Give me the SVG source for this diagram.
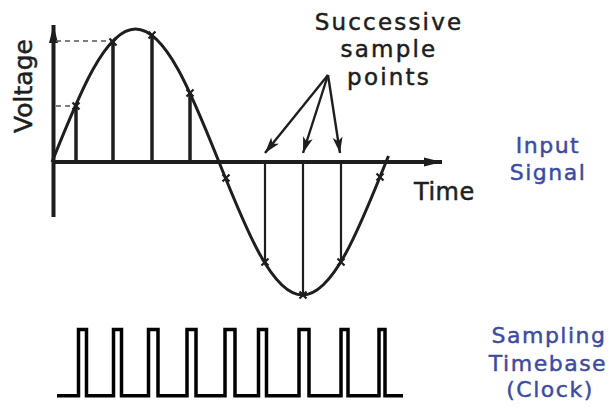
<svg xmlns="http://www.w3.org/2000/svg" xmlns:xlink="http://www.w3.org/1999/xlink" width="613" height="410" viewBox="0 0 613 410">
<style>
.lbl{font-family:"DejaVu Sans","Liberation Sans",sans-serif;fill:#1e1e1e;stroke:#1e1e1e;stroke-width:0.5;}
.blue{font-family:"DejaVu Sans","Liberation Sans",sans-serif;fill:#3d4b9f;stroke:#3d4b9f;stroke-width:0.45;font-size:22px;letter-spacing:1.5px;text-anchor:middle;}
.axis{stroke:#1e1e1e;stroke-width:4;fill:none;}
.wave{stroke:#1e1e1e;stroke-width:3;fill:none;}
.samp{stroke:#1e1e1e;stroke-width:3.5;}
.samp2{stroke:#1e1e1e;stroke-width:2.2;}
.dash{stroke:#555;stroke-width:1.3;stroke-dasharray:5 4;}
.ann{stroke:#1e1e1e;stroke-width:2.4;fill:none;}
.xm{stroke:#1e1e1e;stroke-width:2.2;fill:none;}
</style>
<defs>
<marker id="ah" markerUnits="userSpaceOnUse" markerWidth="18" markerHeight="12" refX="16" refY="5" orient="auto">
<path d="M0,0 L16,5 L0,10 L4,5 Z" fill="#1e1e1e"/>
</marker>
<marker id="axh" markerUnits="userSpaceOnUse" markerWidth="20" markerHeight="12" refX="18" refY="5" orient="auto">
<path d="M0,0.5 L18,5 L0,9.5 Z" fill="#1e1e1e"/>
</marker>
<path id="x" d="M-3.5,-3.5 L3.5,3.5 M-3.5,3.5 L3.5,-3.5"/>
</defs>

<g id="axes">
<line class="axis" x1="53.5" y1="217" x2="53.5" y2="25" marker-end="url(#axh)"/>
<line class="axis" x1="53.5" y1="162" x2="442" y2="162" marker-end="url(#axh)"/>
<line class="dash" x1="56" y1="41" x2="112" y2="41"/>
<line class="dash" x1="56" y1="106" x2="74" y2="106"/>
</g>

<g id="input-signal">
<path class="wave" d="M52,162 C79.23,93.86 105.28,29 135.5,29 C165.72,29 191.77,93.86 219,162 C246.23,230.14 272.28,295 302.5,295 C332.72,295 358.77,230.14 386,162 L388.5,156"/>
</g>

<g id="samples">
<line class="samp" x1="76" y1="162" x2="76" y2="105"/>
<line class="samp" x1="113" y1="162" x2="113" y2="41"/>
<line class="samp" x1="152" y1="162" x2="152" y2="35"/>
<line class="samp" x1="190" y1="162" x2="190" y2="93"/>
<line class="samp2" x1="265" y1="162" x2="265" y2="263"/>
<line class="samp2" x1="303" y1="162" x2="303" y2="295"/>
<line class="samp2" x1="341" y1="162" x2="341" y2="261"/>
<use href="#x" class="xm" x="76" y="106"/>
<use href="#x" class="xm" x="113" y="42"/>
<use href="#x" class="xm" x="152" y="35"/>
<use href="#x" class="xm" x="190" y="93"/>
<use href="#x" class="xm" x="226" y="178"/>
<use href="#x" class="xm" x="265" y="262"/>
<use href="#x" class="xm" x="303" y="295"/>
<use href="#x" class="xm" x="341" y="262"/>
<use href="#x" class="xm" x="380" y="177"/>
</g>

<g id="connectors">
<line class="ann" x1="328" y1="75" x2="265" y2="153" marker-end="url(#ah)"/>
<line class="ann" x1="328" y1="75" x2="303" y2="153" marker-end="url(#ah)"/>
<line class="ann" x1="328" y1="75" x2="340" y2="153" marker-end="url(#ah)"/>
</g>

<g id="clock">
<path fill="none" stroke="#000" stroke-width="3.5" d="M57,395.7 H78.5 V329.5 H86.5 V395.7 H113.5 V329.5 H121.5 V395.7 H148.5 V329.5 H158 V395.7 H187 V329.5 H196 V395.7 H225 V329.5 H235 V395.7 H258.5 V329.5 H266.5 V395.7 H299 V329.5 H309 V395.7 H341 V329.5 H348 V395.7 H379 V329.5 H385 V395.7 H403"/>
</g>

<g id="labels">
<text class="lbl" font-size="25" transform="translate(32,86) rotate(-90)" text-anchor="middle">Voltage</text>
<text class="lbl" font-size="24" x="414" y="200" letter-spacing="0.5">Time</text>
<text class="lbl" font-size="23" x="389" y="30" text-anchor="middle" letter-spacing="2.2">Successive</text>
<text class="lbl" font-size="23" x="389" y="57" text-anchor="middle" letter-spacing="2.2">sample</text>
<text class="lbl" font-size="23" x="389" y="85" text-anchor="middle" letter-spacing="2.2">points</text>
<text class="blue" x="548" y="153">Input</text>
<text class="blue" x="548" y="180">Signal</text>
<text class="blue" x="549" y="343">Sampling</text>
<text class="blue" x="548" y="371">Timebase</text>
<text class="blue" x="550" y="397">(Clock)</text>
</g>
</svg>
